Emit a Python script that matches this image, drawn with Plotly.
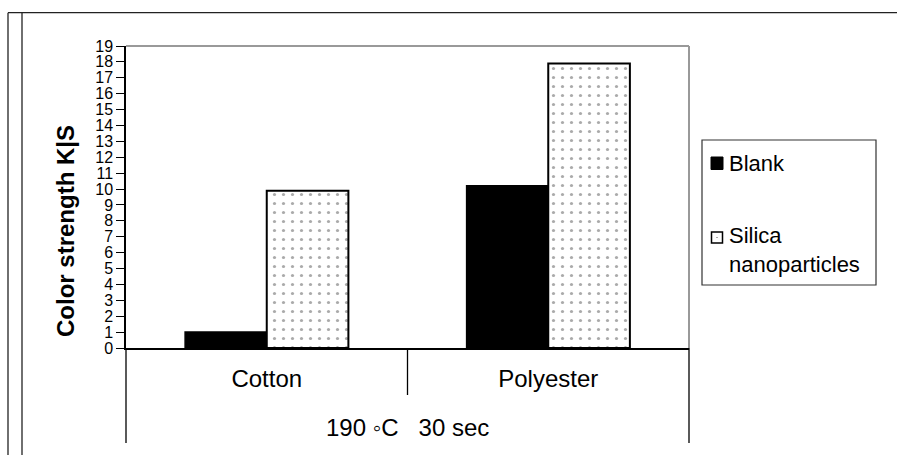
import plotly.graph_objects as go

# ---- data ----
categories = ["Cotton", "Polyester"]
blank_values = [1.0, 10.2]
silica_values = [9.9, 17.9]
series_names = ["Blank", "Silica<br>nanoparticles"]
y_ticks = list(range(0, 20))
y_title = "Color strength K|S"
condition_label = "190 \u25e6C\u00a0\u00a0\u00a030 sec"

FONT = "Arial, Liberation Sans, sans-serif"
W, H = 897, 455
ML, MR, MT, MB = 126, 208, 46, 107
PW, PH = W - ML - MR, H - MT - MB


def px(x):
    return (x - ML) / PW


def py(y):
    return (H - MB - y) / PH


fig = go.Figure()
fig.add_trace(go.Bar(
    x=categories, y=blank_values, name="Blank", showlegend=False,
    marker=dict(color="black", line=dict(color="black", width=1.5)),
))
fig.add_trace(go.Bar(
    x=categories, y=silica_values, name="Silica nanoparticles", showlegend=False,
    marker=dict(color="white", line=dict(color="black", width=2),
                pattern=dict(shape=".", fgcolor="#555", bgcolor="white",
                             size=9, solidity=0.1)),
))

shapes = []
line_dark = dict(color="#222", width=1.3)
# outer frame
shapes.append(dict(type="line", xref="paper", yref="paper", x0=px(8), x1=px(W + 5),
                   y0=py(12.7), y1=py(12.7), line=line_dark))
shapes.append(dict(type="line", xref="paper", yref="paper", x0=px(8), x1=px(8),
                   y0=py(12.7), y1=py(H + 5), line=line_dark))
shapes.append(dict(type="line", xref="paper", yref="paper", x0=px(22), x1=px(22),
                   y0=py(12.7), y1=py(H + 5), line=line_dark))
# plot area top / right borders (gray)
shapes.append(dict(type="line", xref="paper", yref="paper", x0=0, x1=1, y0=1, y1=1,
                   line=dict(color="#999", width=2)))
shapes.append(dict(type="line", xref="paper", yref="paper", x0=1, x1=1, y0=0, y1=1,
                   line=dict(color="#999", width=2)))
# category axis frame lines below the plot
shapes.append(dict(type="line", xref="paper", yref="paper", x0=0, x1=0, y0=0, y1=py(443),
                   line=dict(color="black", width=1.3)))
shapes.append(dict(type="line", xref="paper", yref="paper", x0=1, x1=1, y0=0, y1=py(443),
                   line=dict(color="black", width=1.3)))
shapes.append(dict(type="line", xref="x", yref="paper", x0=0.5, x1=0.5, y0=0, y1=py(395),
                   line=dict(color="black", width=1.3)))
# legend box
shapes.append(dict(type="rect", xref="paper", yref="paper", x0=px(702), x1=px(876),
                   y0=py(140), y1=py(285), line=dict(color="#333", width=1.2),
                   fillcolor="white"))
# legend symbols
shapes.append(dict(type="rect", xref="paper", yref="paper", x0=px(711), x1=px(723),
                   y0=py(157), y1=py(169.5), line=dict(color="black", width=1),
                   fillcolor="black"))
shapes.append(dict(type="rect", xref="paper", yref="paper", x0=px(711.5), x1=px(722.5),
                   y0=py(232), y1=py(243), line=dict(color="black", width=1.5),
                   fillcolor="white"))
shapes.append(dict(type="rect", xref="paper", yref="paper", x0=px(716.5), x1=px(717.5),
                   y0=py(237), y1=py(238), line=dict(color="#555", width=0),
                   fillcolor="#555"))

annotations = [
    dict(text="<b>" + y_title + "</b>", xref="paper", yref="paper", x=px(65), y=py(231),
         textangle=-90, showarrow=False, font=dict(family=FONT, size=24, color="black"),
         xanchor="center", yanchor="middle"),
    dict(text=condition_label, xref="paper", yref="paper", x=0.5, y=py(427),
         showarrow=False, font=dict(family=FONT, size=24, color="black"),
         xanchor="center", yanchor="middle"),
    dict(text=series_names[0], xref="paper", yref="paper", x=px(727), y=py(163),
         showarrow=False, font=dict(family=FONT, size=22, color="black"),
         xanchor="left", yanchor="middle"),
    dict(text=series_names[1], xref="paper", yref="paper", x=px(727), y=py(250),
         showarrow=False, font=dict(family=FONT, size=22, color="black"),
         xanchor="left", yanchor="middle", align="left"),
]

fig.update_layout(
    width=W, height=H,
    margin=dict(l=ML, r=MR, t=MT, b=MB, pad=0),
    paper_bgcolor="white", plot_bgcolor="white",
    barmode="group", bargap=0.42, bargroupgap=0,
    font=dict(family=FONT, color="black"),
    shapes=shapes, annotations=annotations,
    xaxis=dict(type="category", showgrid=False, showline=True, linecolor="black",
               linewidth=1.5, ticks="", tickfont=dict(family=FONT, size=24, color="black"),
               ticklabelstandoff=8, zeroline=False),
    yaxis=dict(range=[0, 19], tickvals=y_ticks, showgrid=False, showline=True,
               linecolor="black", linewidth=1.5, ticks="outside", ticklen=8,
               tickwidth=1.2, tickcolor="black",
               tickfont=dict(family=FONT, size=16, color="black"), zeroline=False),
)

fig.write_html("out.html", config={"displayModeBar": False},
               post_script="document.body.style.margin='0';document.body.style.overflow='hidden';")
